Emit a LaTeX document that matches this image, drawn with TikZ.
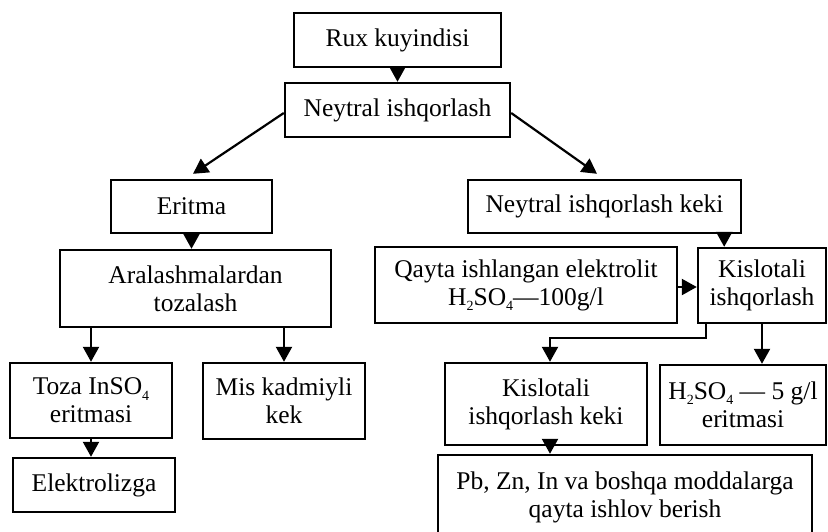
\documentclass[tikz,border=0pt]{standalone}
\usepackage{fontspec}
\setmainfont{Liberation Serif}
\usetikzlibrary{arrows.meta}
\newcommand\sbx[1]{\raisebox{-0.45ex}{\fontsize{14}{14}\selectfont #1}}
\begin{document}
\begin{tikzpicture}[x=1pt,y=-1pt,
  box/.style={draw, line width=2.4pt, align=center, inner sep=0pt,
    font=\fontsize{25.5}{28}\selectfont},
  arr/.style={line width=2.2pt, -{Triangle[width=16pt,length=15pt]}}]
\useasboundingbox (0,0) rectangle (828,531);
\fill[white] (0,0) rectangle (828,531);
\clip (0,0) rectangle (828,531);
% nodes
\node[box, minimum width=207pt, minimum height=54pt] (rux) at (397.5,40) {Rux kuyindisi};
\node[box, minimum width=225pt, minimum height=54pt] (ney) at (397.5,110) {Neytral ishqorlash};
\node[box, minimum width=161pt, minimum height=53pt] (eri) at (191.5,206.5) {Eritma};
\node[box, minimum width=273pt, minimum height=53pt] (keki) at (604.5,206.5) {Neytral ishqorlash keki};
\node[box, minimum width=271pt, minimum height=77pt] (aral) at (195.5,288.5) {Aralashmalardan\\tozalash};
\node[box, minimum width=302pt, minimum height=76pt] (qay) at (526,285) {Qayta ishlangan elektrolit\\H\sbx{2}SO\sbx{4}---100g/l};
\node[box, minimum width=128pt, minimum height=75pt] (kisl) at (762,285.5) {Kislotali\\ishqorlash};
\node[box, minimum width=162pt, minimum height=75pt] (toza) at (91,400.5) {Toza InSO\sbx{4}\\eritmasi};
\node[box, minimum width=162pt, minimum height=76pt] (mis) at (284,401) {Mis kadmiyli\\kek};
\node[box, minimum width=162pt, minimum height=54pt] (elek) at (94,485) {Elektrolizga};
\node[box, minimum width=202pt, minimum height=82pt] (kk) at (546,404) {Kislotali\\ishqorlash keki};
\node[box, minimum width=166pt, minimum height=80pt] (hs) at (743,405) {H\sbx{2}SO\sbx{4} --- 5 g/l\\eritmasi};
\node[box, minimum width=374pt, minimum height=84pt] (pb) at (625,497) {Pb, Zn, In va boshqa moddalarga\\qayta ishlov berish};
% connectors
\draw[arr] (rux.south) -- (ney.north);
\draw[arr] ([yshift=-3pt]ney.west) -- ([xshift=1.5pt,yshift=5pt]eri.north);
\draw[arr] ([yshift=-3pt]ney.east) -- ([xshift=-7.5pt,yshift=5pt]keki.north);
\draw[arr] (eri.south) -- (eri.south |- aral.north);
\draw[arr] (toza.north |- aral.south) -- (toza.north);
\draw[arr] (mis.north |- aral.south) -- (mis.north);
\draw[arr] (toza.south) -- (toza.south |- elek.north);
\draw[arr] ([xshift=-18pt]keki.south east) -- ([xshift=-18pt]keki.south east |- kisl.north);
\draw[arr] ([yshift=-2pt]qay.east) -- ([yshift=-2pt]qay.east -| kisl.west);
\draw[arr] (kisl.south) -- (kisl.south |- hs.north);
\draw[arr] ([xshift=9pt]kisl.south west) -- ++(0,14) -| ([xshift=4pt]kk.north);
\draw[arr] ([xshift=4pt]kk.south) -- ([xshift=4pt]kk.south |- pb.north);
\end{tikzpicture}
\end{document}
